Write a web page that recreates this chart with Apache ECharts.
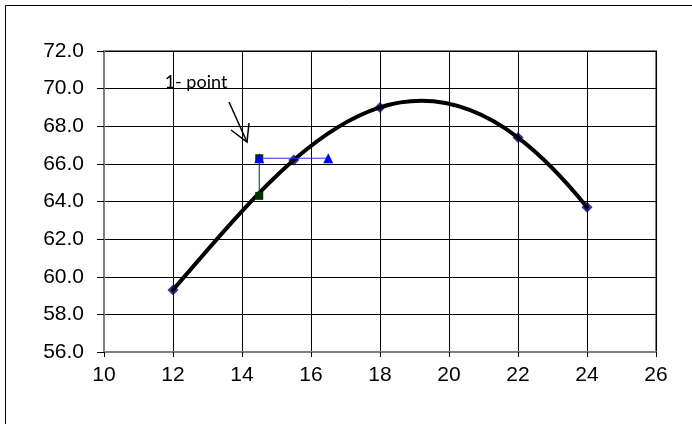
<!DOCTYPE html>
<html>
<head>
<meta charset="utf-8">
<script src="https://cdn.jsdelivr.net/npm/echarts@6/dist/echarts.min.js"></script>
<style>html,body{margin:0;padding:0;background:#fff;}#c{width:692px;height:424px;}</style>
</head>
<body>
<div id="c"></div>
<script>
// Data
const curveX = [12, 15.5, 18, 22, 24];
const curveY = [59.3, 66.2, 69.0, 67.4, 63.7];
const greenX = [14.5, 14.5];
const greenY = [64.3, 66.3];
const blueX = [14.5, 16.5];
const blueY = [66.3, 66.3];
const xTicks = [10, 12, 14, 16, 18, 20, 22, 24, 26];
const yTicks = [56, 58, 60, 62, 64, 66, 68, 70, 72];
const annotationText = '1- point';

const zip = (xs, ys) => xs.map((x, i) => [x, ys[i]]);

// Polynomial (order 4) trendline through the data: slope at each data x,
// used for Bezier tangents of the drawn curve.
function trendSlope(x) {
  const n = curveX.length;
  let s = 0;
  for (let i = 0; i < n; i++) {
    let denom = 1;
    for (let j = 0; j < n; j++) if (j !== i) denom *= (curveX[i] - curveX[j]);
    // derivative of prod_{j!=i}(x - xj)
    let d = 0;
    for (let k = 0; k < n; k++) {
      if (k === i) continue;
      let p = 1;
      for (let j = 0; j < n; j++) if (j !== i && j !== k) p *= (x - curveX[j]);
      d += p;
    }
    s += curveY[i] * d / denom;
  }
  return s;
}
const slopes = curveX.map(trendSlope);

const chart = echarts.init(document.getElementById('c'));
const option = {
  animation: false,
  backgroundColor: '#fff',
  grid: { left: 104, right: 36, top: 51, bottom: 72, show: true, borderColor: '#808080', borderWidth: 2, backgroundColor: 'transparent' },
  xAxis: {
    type: 'value', min: xTicks[0], max: xTicks[xTicks.length - 1], interval: 2,
    axisLine: { show: true, lineStyle: { color: '#808080', width: 2 } },
    axisTick: { show: true, length: 5, lineStyle: { color: '#000' } },
    axisLabel: { color: '#000', fontSize: 21, fontFamily: 'Liberation Sans', margin: 13 },
    splitLine: { show: true, lineStyle: { color: '#000', width: 1 } }
  },
  yAxis: {
    type: 'value', min: yTicks[0], max: yTicks[yTicks.length - 1], interval: 2,
    axisLine: { show: true, lineStyle: { color: '#808080', width: 2 } },
    axisTick: { show: true, length: 7, lineStyle: { color: '#000' } },
    axisLabel: { color: '#000', fontSize: 21, fontFamily: 'Liberation Sans', margin: 20, formatter: v => v.toFixed(1) },
    splitLine: { show: true, lineStyle: { color: '#000', width: 1 } }
  },
  series: [
    {
      type: 'scatter', data: zip(curveX, curveY),
      symbol: 'diamond', symbolSize: 11,
      itemStyle: { color: '#000080' },
      z: 2
    },
    {
      type: 'custom', data: zip(curveX, curveY), z: 3, silent: true,
      renderItem: function (params, api) {
        const i = params.dataIndex;
        if (i >= curveX.length - 1) return null;
        const x0 = curveX[i], y0 = curveY[i], x1 = curveX[i + 1], y1 = curveY[i + 1];
        const h = x1 - x0;
        const p0 = api.coord([x0, y0]);
        const c1 = api.coord([x0 + h / 3, y0 + slopes[i] * h / 3]);
        const c2 = api.coord([x1 - h / 3, y1 - slopes[i + 1] * h / 3]);
        const p1 = api.coord([x1, y1]);
        return {
          type: 'bezierCurve',
          shape: { x1: p0[0], y1: p0[1], cpx1: c1[0], cpy1: c1[1], cpx2: c2[0], cpy2: c2[1], x2: p1[0], y2: p1[1] },
          style: { stroke: '#000', lineWidth: 4, fill: 'none', lineCap: 'round' }
        };
      }
    },
    {
      type: 'line', data: zip(greenX, greenY),
      symbol: 'rect', symbolSize: 8,
      itemStyle: { color: '#003300' },
      lineStyle: { color: '#004000', width: 1 },
      z: 4
    },
    {
      type: 'line', data: zip(blueX, blueY),
      symbol: 'triangle', symbolSize: 10,
      itemStyle: { color: '#0000ff' },
      lineStyle: { color: '#3333ff', width: 1 },
      z: 5
    }
  ],
  graphic: [
    { type: 'rect', shape: { x: 5.5, y: 5.5, width: 720, height: 450 }, style: { fill: 'none', stroke: '#000', lineWidth: 1 }, z: 100 },
    { type: 'text', x: 196, y: 82, style: { text: annotationText, fontSize: 18, fontFamily: 'Lato', fill: '#000', textAlign: 'center', textVerticalAlign: 'middle' }, z: 100 },
    { type: 'line', shape: { x1: 229, y1: 102, x2: 247, y2: 142 }, style: { stroke: '#000', lineWidth: 1.5 }, z: 100 },
    { type: 'polyline', shape: { points: [[231, 130], [247, 142], [249, 123]] }, style: { stroke: '#000', lineWidth: 1.5, fill: 'none' }, z: 100 }
  ]
};
chart.setOption(option);
</script>
</body>
</html>
